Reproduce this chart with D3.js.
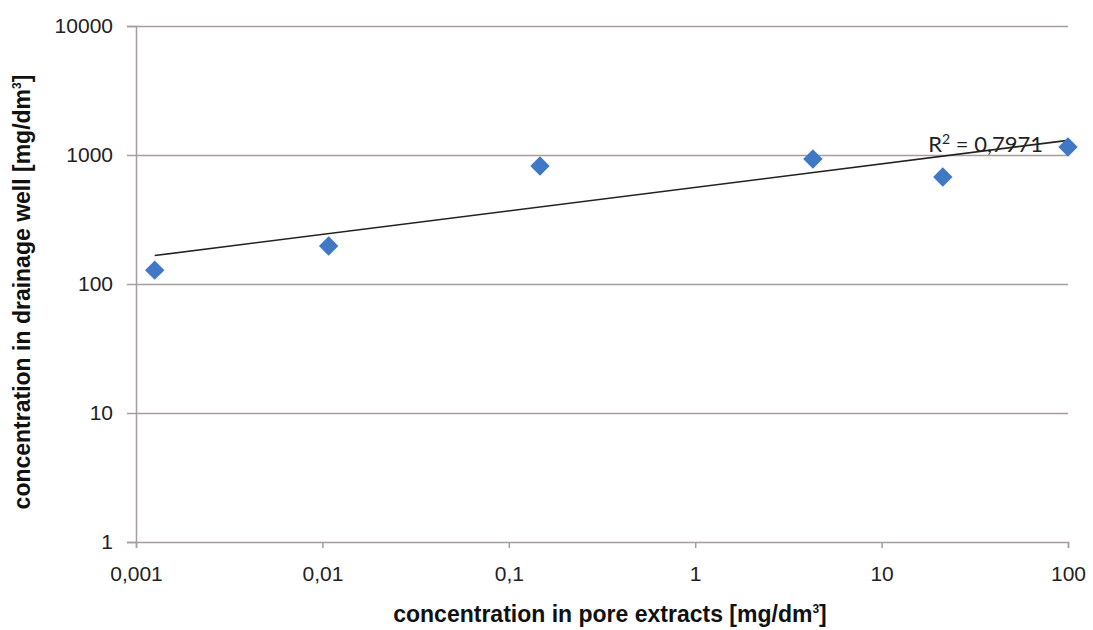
<!DOCTYPE html>
<html>
<head>
<meta charset="utf-8">
<script src="https://cdn.jsdelivr.net/npm/d3@7"></script>
<style>
  html, body { margin: 0; padding: 0; background: #fff; }
  svg { display: block; }
</style>
</head>
<body>
<div id="chart"></div>
<script>
// Data
const poreConc = [0.00126, 0.0108, 0.147, 4.28, 21.3, 100];
const wellConc = [128, 197, 822, 931, 675, 1153];
const xTicks = [0.001, 0.01, 0.1, 1, 10, 100];
const yTicks = [1, 10, 100, 1000, 10000];
const r2Label = "0,7971";

const width = 1093, height = 630;
const margin = { top: 26, right: 25, bottom: 88, left: 136 };
const innerW = width - margin.left - margin.right;
const innerH = height - margin.top - margin.bottom;

const svg = d3.select("#chart").append("svg")
    .attr("width", width)
    .attr("height", height)
    .style("font-family", "Lato, 'Open Sans', sans-serif");

const g = svg.append("g")
    .attr("transform", `translate(${margin.left},${margin.top})`);

const x = d3.scaleLog().domain([0.001, 100]).range([0, innerW]);
const y = d3.scaleLog().domain([1, 10000]).range([innerH, 0]);

const gridColor = "#a99c9c";
const fmt = d => String(d).replace(".", ",");

// Grid (horizontal)
g.append("g")
    .call(d3.axisLeft(y).tickValues(yTicks.slice(1)).tickSize(-innerW).tickFormat(""))
    .call(s => s.select(".domain").remove())
    .selectAll("line").attr("stroke", gridColor).attr("stroke-width", 1.5);

// Y axis
const yAxis = g.append("g")
    .call(d3.axisLeft(y).tickValues(yTicks).tickSize(9).tickPadding(14).tickFormat(fmt));
yAxis.select(".domain").attr("stroke", gridColor).attr("stroke-width", 1.5);
yAxis.selectAll("line").attr("stroke", gridColor).attr("stroke-width", 1.5);
yAxis.selectAll("text").attr("fill", "#222").style("font-size", "21px");

// X axis
const xAxis = g.append("g")
    .attr("transform", `translate(0,${innerH})`)
    .call(d3.axisBottom(x).tickValues(xTicks).tickSize(6).tickPadding(18).tickFormat(fmt));
xAxis.select(".domain").attr("stroke", gridColor).attr("stroke-width", 1.5);
xAxis.selectAll("line").attr("stroke", gridColor).attr("stroke-width", 1.5);
xAxis.selectAll("text").attr("fill", "#222").style("font-size", "21px");

// Power trendline (least squares in log-log)
const lx = poreConc.map(Math.log10), ly = wellConc.map(Math.log10);
const mx = d3.mean(lx), my = d3.mean(ly);
const slope = d3.sum(lx, (v, i) => (v - mx) * (ly[i] - my)) / d3.sum(lx, v => (v - mx) ** 2);
const icpt = my - slope * mx;
const fit = v => Math.pow(10, icpt + slope * Math.log10(v));
const xEnds = d3.extent(poreConc);

g.append("line")
    .attr("x1", x(xEnds[0])).attr("y1", y(fit(xEnds[0])))
    .attr("x2", x(xEnds[1])).attr("y2", y(fit(xEnds[1])))
    .attr("stroke", "#222")
    .attr("stroke-width", 1.6);

// Markers
g.selectAll("path.pt")
    .data(poreConc.map((v, i) => [v, wellConc[i]]))
    .join("path")
    .attr("class", "pt")
    .attr("d", d3.symbol(d3.symbolDiamond2, 240))
    .attr("transform", d => `translate(${x(d[0])},${y(d[1])})`)
    .attr("fill", "#3f78c4");

// R² label
const rt = g.append("text")
    .attr("x", x(xEnds[1]) - 25)
    .attr("y", y(fit(xEnds[1])) + 12)
    .attr("text-anchor", "end")
    .attr("fill", "#222")
    .style("font-size", "22px");
rt.append("tspan").text("R");
rt.append("tspan").attr("dy", -8).style("font-size", "14px").text("2");
rt.append("tspan").attr("dy", 8).text(" = " + r2Label);

// Axis titles
const titleFont = "'Liberation Sans', Arial, sans-serif";
const yt = svg.append("text")
    .attr("transform", `translate(30,${margin.top + innerH / 2 + 8}) rotate(-90)`)
    .attr("text-anchor", "middle")
    .style("font-family", titleFont)
    .style("font-weight", "bold")
    .style("font-size", "23px")
    .attr("fill", "#111");
yt.append("tspan").text("concentration in drainage well [mg/dm");
yt.append("tspan").attr("dy", -9).style("font-size", "12px").text("3");
yt.append("tspan").attr("dy", 9).text("]");

const xt = svg.append("text")
    .attr("x", margin.left + innerW / 2 + 8)
    .attr("y", 622)
    .attr("text-anchor", "middle")
    .style("font-family", titleFont)
    .style("font-weight", "bold")
    .style("font-size", "23px")
    .attr("fill", "#111");
xt.append("tspan").text("concentration in pore extracts [mg/dm");
xt.append("tspan").attr("dy", -9).style("font-size", "12px").text("3");
xt.append("tspan").attr("dy", 9).text("]");
</script>
</body>
</html>
